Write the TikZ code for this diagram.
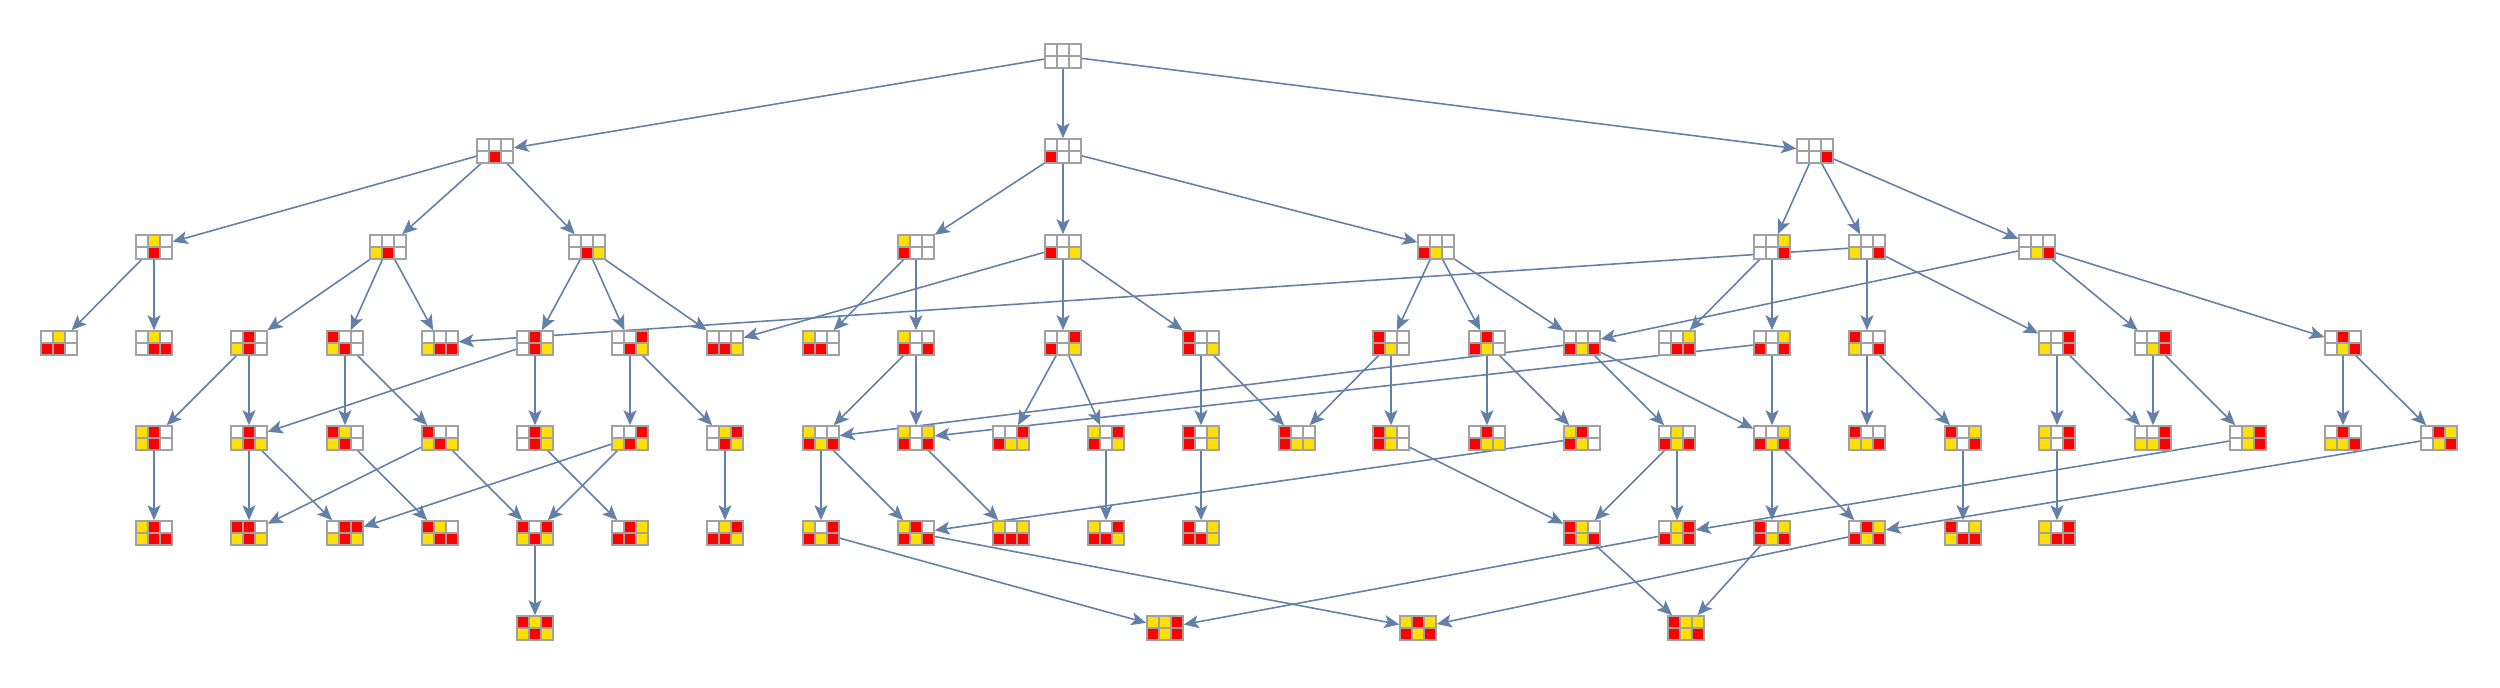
\documentclass[tikz,border=0pt]{standalone}
\usepackage{xcolor}
\usepackage{tikz}
\usetikzlibrary{arrows.meta, backgrounds}
\definecolor{edgeblue}{rgb}{0.39,0.5,0.66}
\definecolor{gridgray}{rgb}{0.63,0.63,0.63}
\definecolor{pw}{rgb}{1,1,1}
\definecolor{pr}{rgb}{1,0,0}
\definecolor{py}{rgb}{1,0.88,0}
\newcommand{\cellsq}[1]{\textcolor{p#1}{\rule{0.102cm}{0.102cm}}}
\def\boardcells#1#2#3/#4#5#6{\vbox{\offinterlineskip
  \hbox{\cellsq{#1}\kern0.017cm\cellsq{#2}\kern0.017cm\cellsq{#3}}\kern0.017cm
  \hbox{\cellsq{#4}\kern0.017cm\cellsq{#5}\kern0.017cm\cellsq{#6}}}}

\begin{document}
\begin{tikzpicture}[
    board/.style={
        rectangle,
        fill=gridgray,
        inner sep=0.017cm,
        outer sep=0pt,
    },
    ply/.style={-{Stealth[length=0.15cm, width=0.13cm, inset=0.035cm]}, line width=0.45pt, color=edgeblue}
]
\useasboundingbox (0,0) rectangle (25,6.88);
\node[board] (s0) at (10.63,6.32) {\boardcells www/www};
\node[board] (s1a) at (4.95,5.37) {\boardcells www/wrw};
\node[board] (s1b) at (10.63,5.37) {\boardcells www/rww};
\node[board] (s1c) at (18.15,5.37) {\boardcells www/wwr};
\node[board] (s2a) at (1.54,4.41) {\boardcells wyw/wrw};
\node[board] (s2b) at (3.88,4.41) {\boardcells www/yrw};
\node[board] (s2c) at (5.87,4.41) {\boardcells www/wry};
\node[board] (s2d) at (9.16,4.41) {\boardcells yww/rww};
\node[board] (s2e) at (10.63,4.41) {\boardcells www/rwy};
\node[board] (s2f) at (14.36,4.41) {\boardcells www/ryw};
\node[board] (s2g) at (17.72,4.41) {\boardcells wwy/wwr};
\node[board] (s2h) at (18.67,4.41) {\boardcells www/ywr};
\node[board] (s2i) at (20.37,4.41) {\boardcells www/wyr};
\node[board] (s3a) at (0.59,3.45) {\boardcells wyw/rrw};
\node[board] (s3b) at (1.54,3.45) {\boardcells wyw/wrr};
\node[board] (s3c) at (2.49,3.45) {\boardcells wrw/yrw};
\node[board] (s3d) at (3.45,3.45) {\boardcells rww/yrw};
\node[board] (s3e) at (4.40,3.45) {\boardcells www/yrr};
\node[board] (s3f) at (5.35,3.45) {\boardcells wrw/wry};
\node[board] (s3g) at (6.30,3.45) {\boardcells wwr/wry};
\node[board] (s3h) at (7.25,3.45) {\boardcells www/rry};
\node[board] (s3i) at (8.21,3.45) {\boardcells yww/rrw};
\node[board] (s3j) at (9.16,3.45) {\boardcells yww/rwr};
\node[board] (s3k) at (10.63,3.45) {\boardcells wwr/rwy};
\node[board] (s3l) at (12.01,3.45) {\boardcells rww/rwy};
\node[board] (s3m) at (13.91,3.45) {\boardcells rww/ryw};
\node[board] (s3n) at (14.87,3.45) {\boardcells wrw/ryw};
\node[board] (s3o) at (15.82,3.45) {\boardcells www/ryr};
\node[board] (s3p) at (16.77,3.45) {\boardcells wwy/wrr};
\node[board] (s3q) at (17.72,3.45) {\boardcells wwy/rwr};
\node[board] (s3r) at (18.67,3.45) {\boardcells rww/ywr};
\node[board] (s3s) at (20.57,3.45) {\boardcells wwr/ywr};
\node[board] (s3t) at (21.53,3.45) {\boardcells wwr/wyr};
\node[board] (s3u) at (23.43,3.45) {\boardcells wrw/wyr};
\node[board] (s4a) at (1.54,2.50) {\boardcells yrw/yrw};
\node[board] (s4b) at (2.49,2.50) {\boardcells wrw/yry};
\node[board] (s4c) at (3.45,2.50) {\boardcells ryw/yrw};
\node[board] (s4d) at (4.40,2.50) {\boardcells rww/yry};
\node[board] (s4e) at (5.35,2.50) {\boardcells wry/wry};
\node[board] (s4f) at (6.30,2.50) {\boardcells wwr/yry};
\node[board] (s4g) at (7.25,2.50) {\boardcells wyr/wry};
\node[board] (s4h) at (8.21,2.50) {\boardcells yww/ryr};
\node[board] (s4i) at (9.16,2.50) {\boardcells ywy/rwr};
\node[board] (s4j) at (10.11,2.50) {\boardcells wwr/ryy};
\node[board] (s4k) at (11.06,2.50) {\boardcells ywr/rwy};
\node[board] (s4l) at (12.01,2.50) {\boardcells rwy/rwy};
\node[board] (s4m) at (12.97,2.50) {\boardcells rww/ryy};
\node[board] (s4n) at (13.91,2.50) {\boardcells ryw/ryw};
\node[board] (s4o) at (14.87,2.50) {\boardcells wrw/ryy};
\node[board] (s4p) at (15.82,2.50) {\boardcells yrw/ryw};
\node[board] (s4q) at (16.77,2.50) {\boardcells wyw/ryr};
\node[board] (s4r) at (17.72,2.50) {\boardcells wwy/ryr};
\node[board] (s4s) at (18.67,2.50) {\boardcells rww/yyr};
\node[board] (s4t) at (19.63,2.50) {\boardcells rwy/ywr};
\node[board] (s4u) at (20.57,2.50) {\boardcells ywr/ywr};
\node[board] (s4v) at (21.53,2.50) {\boardcells wwr/yyr};
\node[board] (s4w) at (22.48,2.50) {\boardcells wyr/wyr};
\node[board] (s4x) at (23.43,2.50) {\boardcells wrw/yyr};
\node[board] (s4y) at (24.39,2.50) {\boardcells wry/wyr};
\node[board] (s5a) at (1.54,1.55) {\boardcells yrw/yrr};
\node[board] (s5b) at (2.49,1.55) {\boardcells rrw/yry};
\node[board] (s5c) at (3.45,1.55) {\boardcells wrr/yry};
\node[board] (s5d) at (4.40,1.55) {\boardcells ryw/yrr};
\node[board] (s5e) at (5.35,1.55) {\boardcells rwr/yry};
\node[board] (s5f) at (6.30,1.55) {\boardcells wry/rry};
\node[board] (s5g) at (7.25,1.55) {\boardcells wyr/rry};
\node[board] (s5h) at (8.21,1.55) {\boardcells ywr/ryr};
\node[board] (s5i) at (9.16,1.55) {\boardcells yrw/ryr};
\node[board] (s5j) at (10.11,1.55) {\boardcells ywy/rrr};
\node[board] (s5k) at (11.06,1.55) {\boardcells ywr/rry};
\node[board] (s5l) at (12.01,1.55) {\boardcells rwy/rry};
\node[board] (s5m) at (15.82,1.55) {\boardcells ryw/ryr};
\node[board] (s5n) at (16.77,1.55) {\boardcells wyr/ryr};
\node[board] (s5o) at (17.72,1.55) {\boardcells rwy/ryr};
\node[board] (s5p) at (18.67,1.55) {\boardcells wry/ryr};
\node[board] (s5q) at (19.63,1.55) {\boardcells rwy/yrr};
\node[board] (s5r) at (20.57,1.55) {\boardcells ywr/yrr};
\node[board] (s6a) at (5.35,0.60) {\boardcells ryr/yry};
\node[board] (s6b) at (11.65,0.60) {\boardcells yyr/ryr};
\node[board] (s6c) at (14.18,0.60) {\boardcells yry/ryr};
\node[board] (s6d) at (16.86,0.60) {\boardcells ryy/ryr};

\begin{scope}[on background layer]
\draw[ply] (s0) -- (s1a);
\draw[ply] (s0) -- (s1b);
\draw[ply] (s0) -- (s1c);
\draw[ply] (s1a) -- (s2a);
\draw[ply] (s1a) -- (s2b);
\draw[ply] (s1a) -- (s2c);
\draw[ply] (s1b) -- (s2d);
\draw[ply] (s1b) -- (s2e);
\draw[ply] (s1b) -- (s2f);
\draw[ply] (s1c) -- (s2g);
\draw[ply] (s1c) -- (s2h);
\draw[ply] (s1c) -- (s2i);
\draw[ply] (s2a) -- (s3a);
\draw[ply] (s2a) -- (s3b);
\draw[ply] (s2b) -- (s3c);
\draw[ply] (s2b) -- (s3d);
\draw[ply] (s2b) -- (s3e);
\draw[ply] (s2c) -- (s3f);
\draw[ply] (s2c) -- (s3g);
\draw[ply] (s2c) -- (s3h);
\draw[ply] (s2d) -- (s3i);
\draw[ply] (s2d) -- (s3j);
\draw[ply] (s2e) -- (s3h);
\draw[ply] (s2e) -- (s3k);
\draw[ply] (s2e) -- (s3l);
\draw[ply] (s2f) -- (s3m);
\draw[ply] (s2f) -- (s3n);
\draw[ply] (s2f) -- (s3o);
\draw[ply] (s2g) -- (s3p);
\draw[ply] (s2g) -- (s3q);
\draw[ply] (s2h) -- (s3e);
\draw[ply] (s2h) -- (s3r);
\draw[ply] (s2h) -- (s3s);
\draw[ply] (s2i) -- (s3o);
\draw[ply] (s2i) -- (s3t);
\draw[ply] (s2i) -- (s3u);
\draw[ply] (s3c) -- (s4a);
\draw[ply] (s3c) -- (s4b);
\draw[ply] (s3d) -- (s4c);
\draw[ply] (s3d) -- (s4d);
\draw[ply] (s3f) -- (s4b);
\draw[ply] (s3f) -- (s4e);
\draw[ply] (s3g) -- (s4f);
\draw[ply] (s3g) -- (s4g);
\draw[ply] (s3j) -- (s4h);
\draw[ply] (s3j) -- (s4i);
\draw[ply] (s3k) -- (s4j);
\draw[ply] (s3k) -- (s4k);
\draw[ply] (s3l) -- (s4l);
\draw[ply] (s3l) -- (s4m);
\draw[ply] (s3m) -- (s4m);
\draw[ply] (s3m) -- (s4n);
\draw[ply] (s3n) -- (s4o);
\draw[ply] (s3n) -- (s4p);
\draw[ply] (s3o) -- (s4h);
\draw[ply] (s3o) -- (s4q);
\draw[ply] (s3o) -- (s4r);
\draw[ply] (s3q) -- (s4i);
\draw[ply] (s3q) -- (s4r);
\draw[ply] (s3r) -- (s4s);
\draw[ply] (s3r) -- (s4t);
\draw[ply] (s3s) -- (s4u);
\draw[ply] (s3s) -- (s4v);
\draw[ply] (s3t) -- (s4v);
\draw[ply] (s3t) -- (s4w);
\draw[ply] (s3u) -- (s4x);
\draw[ply] (s3u) -- (s4y);
\draw[ply] (s4a) -- (s5a);
\draw[ply] (s4b) -- (s5b);
\draw[ply] (s4b) -- (s5c);
\draw[ply] (s4c) -- (s5d);
\draw[ply] (s4d) -- (s5b);
\draw[ply] (s4d) -- (s5e);
\draw[ply] (s4e) -- (s5f);
\draw[ply] (s4f) -- (s5c);
\draw[ply] (s4f) -- (s5e);
\draw[ply] (s4g) -- (s5g);
\draw[ply] (s4h) -- (s5h);
\draw[ply] (s4h) -- (s5i);
\draw[ply] (s4i) -- (s5j);
\draw[ply] (s4k) -- (s5k);
\draw[ply] (s4l) -- (s5l);
\draw[ply] (s4n) -- (s5m);
\draw[ply] (s4p) -- (s5i);
\draw[ply] (s4q) -- (s5m);
\draw[ply] (s4q) -- (s5n);
\draw[ply] (s4r) -- (s5o);
\draw[ply] (s4r) -- (s5p);
\draw[ply] (s4t) -- (s5q);
\draw[ply] (s4u) -- (s5r);
\draw[ply] (s4w) -- (s5n);
\draw[ply] (s4y) -- (s5p);
\draw[ply] (s5e) -- (s6a);
\draw[ply] (s5h) -- (s6b);
\draw[ply] (s5i) -- (s6c);
\draw[ply] (s5m) -- (s6d);
\draw[ply] (s5n) -- (s6b);
\draw[ply] (s5o) -- (s6d);
\draw[ply] (s5p) -- (s6c);
\end{scope}
\end{tikzpicture}
\end{document}
